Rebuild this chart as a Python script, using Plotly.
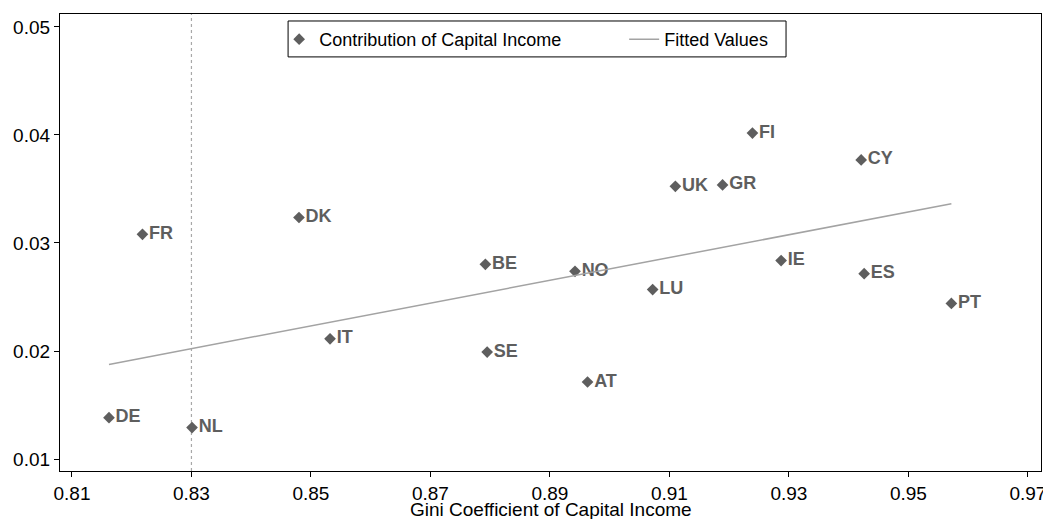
import plotly.graph_objects as go

countries = ["FR", "DK", "DE", "NL", "IT", "BE", "SE", "NO", "AT", "LU",
             "UK", "GR", "FI", "IE", "CY", "ES", "PT"]
gini = [0.8218, 0.8480, 0.8162, 0.8301, 0.8532, 0.8792, 0.8795, 0.8942, 0.8963, 0.9072,
        0.9110, 0.9189, 0.9239, 0.9287, 0.9421, 0.9426, 0.9572]
contribution = [0.0308, 0.03236, 0.01383, 0.01291, 0.02113, 0.02802, 0.0199, 0.02738, 0.01713, 0.02569,
                0.03525, 0.03538, 0.04018, 0.02837, 0.03769, 0.02716, 0.0244]

fit_x = [0.8162, 0.9572]
fit_y = [0.01876, 0.03363]

vline_x = 0.83
x_ticks = [0.81, 0.83, 0.85, 0.87, 0.89, 0.91, 0.93, 0.95, 0.97]
y_ticks = [0.01, 0.02, 0.03, 0.04, 0.05]

FONT = "Liberation Sans, Arial, sans-serif"
PT_COLOR = "#5e5e5e"

fig = go.Figure()
fig.add_trace(go.Scatter(
    x=gini, y=contribution, mode="markers+text", text=countries,
    textposition="middle right",
    textfont=dict(family=FONT, size=18, color=PT_COLOR, weight="bold"),
    marker=dict(symbol="diamond", size=9, color=PT_COLOR),
    name="Contribution of Capital Income",
))
fig.add_trace(go.Scatter(
    x=fit_x, y=fit_y, mode="lines", line=dict(color="#a3a3a3", width=1.5),
    name="Fitted Values",
))

fig.add_shape(type="line", x0=vline_x, x1=vline_x, y0=0, y1=1, xref="x", yref="paper",
              line=dict(color="#a8a8a8", width=1.2, dash="dot"), layer="below")
# legend frame
fig.add_shape(type="rect", xref="paper", yref="paper", x0=0.2325, x1=0.7401, y0=0.9061, y1=0.9847,
              line=dict(color="black", width=1), fillcolor="white", layer="above")

fig.update_layout(
    width=1043, height=511,
    margin=dict(l=52, r=6, t=5, b=48),
    paper_bgcolor="white", plot_bgcolor="white",
    font=dict(family=FONT, size=19, color="black"),
    showlegend=True,
    legend=dict(orientation="h", x=0.2234, y=0.9847, xanchor="left", yanchor="top",
                borderwidth=0, bgcolor="rgba(0,0,0,0)",
                font=dict(family=FONT, size=18, color="black"),
                entrywidth=300, entrywidthmode="pixels"),
    xaxis=dict(range=[0.808, 0.9722], tickvals=x_ticks, ticktext=[f"{v:.2f}" for v in x_ticks],
               showgrid=False, zeroline=False, showline=True, linecolor="black", linewidth=1.2,
               mirror=True, ticks="outside", ticklen=5, tickcolor="black",
               tickfont=dict(size=19)),
    yaxis=dict(range=[0.00889, 0.0512], tickvals=y_ticks, ticktext=[f"{v:.2f}" for v in y_ticks],
               showgrid=False, zeroline=False, showline=True, linecolor="black", linewidth=1.2,
               mirror=True, ticks="outside", ticklen=5, tickcolor="black",
               tickfont=dict(size=19)),
)

fig.add_annotation(text="Gini Coefficient of Capital Income", xref="paper", yref="paper",
                   x=0.5, y=0, xanchor="center", yanchor="top", yshift=-26, showarrow=False,
                   font=dict(family=FONT, size=19, color="black"))

fig.write_html("out.html")
